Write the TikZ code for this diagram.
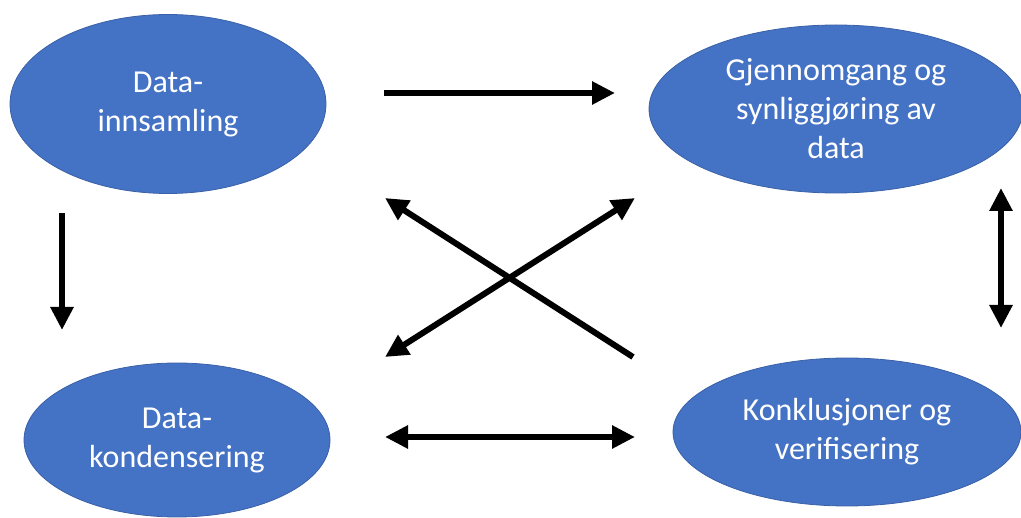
\documentclass[tikz,border=0pt]{standalone}
\usepackage{fontspec}
\setmainfont{Carlito}
\usepackage{xcolor}
\usepackage{tikz}
\usetikzlibrary{shapes.geometric, arrows.meta, positioning}
\definecolor{officeblue}{HTML}{4472C4}

\begin{document}
\begin{tikzpicture}[
    x=1pt, y=-1pt,
    phase/.style={ellipse, fill=officeblue, draw=officeblue!85!black, line width=0.8pt,
                  inner sep=0pt, text=white, align=center,
                  font=\fontsize{32}{39}\selectfont},
    arr/.style={-{Triangle[length=23pt, width=22pt]}, line width=6pt},
    biarr/.style={{Triangle[length=23pt, width=22pt]}-{Triangle[length=23pt, width=22pt]}, line width=6pt},
]
    \useasboundingbox (0,0) rectangle (1021,518);

    % Phases
    \node[phase, minimum width=316pt, minimum height=179pt] (innsamling) at (168,104) {Data-\\innsamling};
    \node[phase, minimum width=374pt, minimum height=168pt] (gjennomgang) at (836,109) {Gjennomgang og\\synliggjøring av\\data};
    \node[phase, minimum width=306pt, minimum height=154pt] (kondensering) at (177,440) {Data-\\kondensering};
    \node[phase, minimum width=348pt, minimum height=148pt] (konklusjon) at (847,432) {Konklusjoner og\\verifisering};

    % Arrow ends
    \coordinate (top-a) at (384,93);
    \coordinate (top-b) at (615,93);
    \coordinate (left-a) at (62,213);
    \coordinate (left-b) at (62,330);
    \coordinate (bot-a) at (385,437);
    \coordinate (bot-b) at (635,437);
    \coordinate (right-a) at (1001,188);
    \coordinate (right-b) at (1001,328);
    \coordinate (nw) at (385,198);
    \coordinate (ne) at (635,198);
    \coordinate (sw) at (385,357);
    \coordinate (se) at (633,357);

    % Arrows
    \draw[arr] (top-a) -- (top-b);
    \draw[arr] (left-a) -- (left-b);
    \draw[biarr] (bot-a) -- (bot-b);
    \draw[biarr] (right-a) -- (right-b);
    \draw[arr] (se) -- (nw);
    \draw[biarr] (sw) -- (ne);

\end{tikzpicture}
\end{document}
